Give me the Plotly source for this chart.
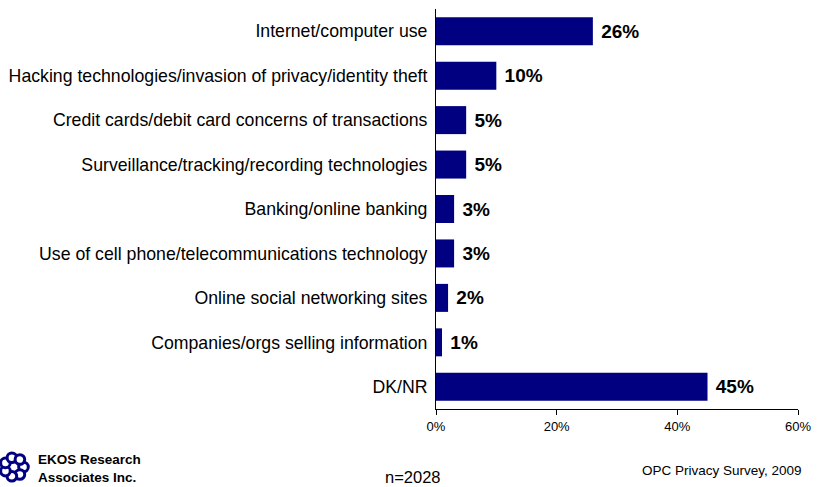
import plotly.graph_objects as go
import math

categories = [
    "Internet/computer use",
    "Hacking technologies/invasion of privacy/identity theft",
    "Credit cards/debit card concerns of transactions",
    "Surveillance/tracking/recording technologies",
    "Banking/online banking",
    "Use of cell phone/telecommunications technology",
    "Online social networking sites",
    "Companies/orgs selling information",
    "DK/NR",
]
values = [26, 10, 5, 5, 3, 3, 2, 1, 45]
value_labels = [f"{v}%" for v in values]
tick_vals = [0, 20, 40, 60]
tick_text = ["0%", "20%", "40%", "60%"]

L, T, PW, PH = 436, 9, 362, 400

def px2paper(x, y):
    return (x - L) / PW, -(y - (T + PH)) / PH

fig = go.Figure(go.Bar(
    y=categories, x=values, orientation="h",
    marker=dict(color="#000080", line=dict(width=0)),
    text=value_labels, texttemplate=" %{text}", textposition="outside", cliponaxis=False,
    textfont=dict(family="Liberation Sans, Arial", size=19, color="black", weight="bold"),
))

fig.update_layout(
    width=832, height=487,
    margin=dict(l=L, r=832 - L - PW, t=T, b=487 - T - PH, autoexpand=False),
    paper_bgcolor="white", plot_bgcolor="white",
    bargap=0.37, showlegend=False,
    font=dict(family="Liberation Sans, Arial", color="black"),
    xaxis=dict(range=[0, 60], tickvals=tick_vals, ticktext=tick_text,
               showgrid=False, zeroline=False, showline=True, linecolor="black", linewidth=1,
               ticks="outside", ticklen=5, tickcolor="black", tickfont=dict(size=13)),
    yaxis=dict(autorange="reversed", showgrid=False, zeroline=False, showline=True,
               linecolor="black", linewidth=1, ticks="", ticklabelstandoff=4,
               tickfont=dict(size=17.7)),
)

x, y = px2paper(804, 470)
fig.add_annotation(xref="paper", yref="paper", x=x, y=y,
                   text="OPC Privacy Survey, 2009", showarrow=False, xanchor="right",
                   yanchor="middle", font=dict(size=13.5))
x, y = px2paper(413, 487)
fig.add_annotation(xref="paper", yref="paper", x=x, y=y,
                   text="n=2028", showarrow=False, xanchor="center", yanchor="bottom",
                   borderpad=0, font=dict(size=16.5))
x, y = px2paper(36, 468)
fig.add_annotation(xref="paper", yref="paper", x=x, y=y,
                   text="<b>EKOS Research<br>Associates Inc.</b>", showarrow=False,
                   xanchor="left", yanchor="middle", align="left", font=dict(size=13.5))

# simple logo: ring of small circles
cx, cy, R, r = 14, 467, 9.5, 4.8
for i in range(7):
    a = 2 * math.pi * i / 7
    ccx, ccy = cx + R * math.cos(a), cy + R * math.sin(a)
    x0, y0 = px2paper(ccx - r, ccy + r)
    x1, y1 = px2paper(ccx + r, ccy - r)
    fig.add_shape(type="circle", xref="paper", yref="paper", x0=x0, x1=x1, y0=y0, y1=y1,
                  line=dict(color="#000080", width=3), fillcolor="white")

fig.write_html("out.html", config={"displayModeBar": False},
               post_script="document.body.style.margin='0px';document.body.style.overflow='hidden';")
